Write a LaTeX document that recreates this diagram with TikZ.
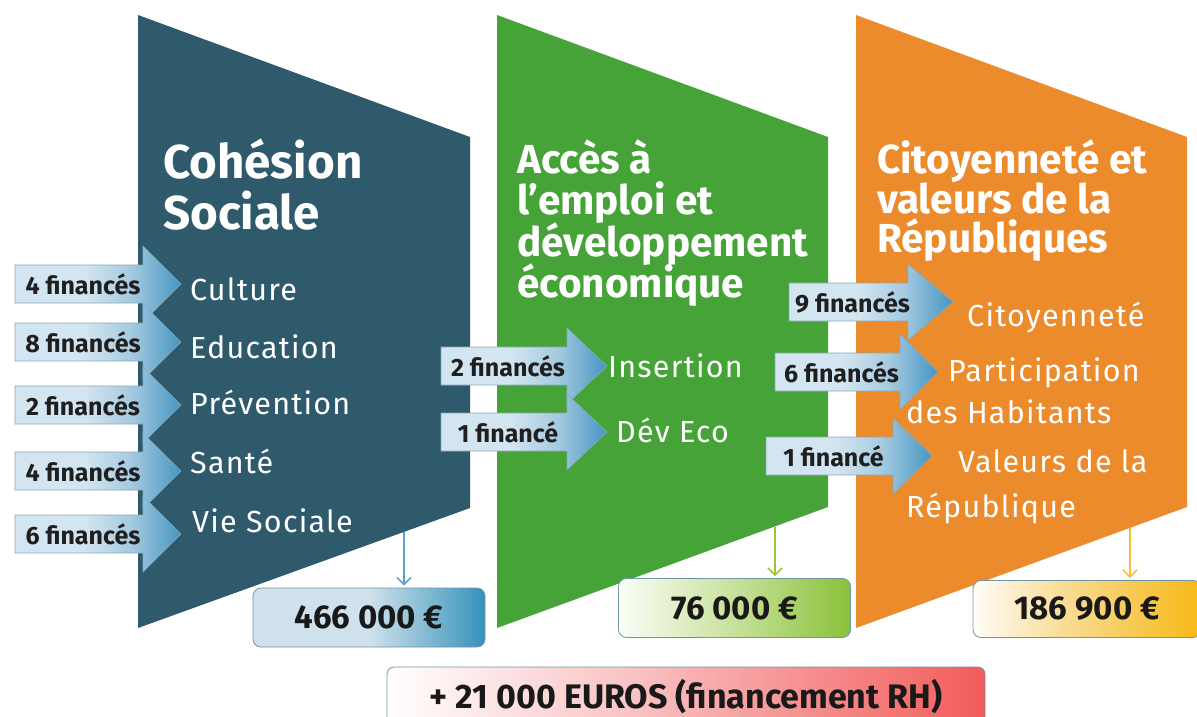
\documentclass[tikz,border=0pt]{standalone}
\usepackage{fontspec}
\setmainfont{Fira Sans}
\newfontfamily\itemfont[LetterSpace=4]{Fira Sans}
\usetikzlibrary{arrows.meta}

% panel colours
\definecolor{cTeal}{HTML}{2E5A6C}
\definecolor{cGreen}{HTML}{45A337}
\definecolor{cOrange}{HTML}{EC8B2C}
% funding arrows
\definecolor{arL}{HTML}{D3E5F0}
\definecolor{arM}{HTML}{A5CAE0}
\definecolor{arR}{HTML}{4596C2}
\definecolor{arEdge}{HTML}{8AA9B8}
% amount boxes
\definecolor{boxEdge}{HTML}{6F95A6}
\definecolor{bBlueL}{HTML}{CFE1EC}
\definecolor{bBlueR}{HTML}{3592BB}
\definecolor{bGreenL}{HTML}{FBFDF6}
\definecolor{bGreenM}{HTML}{D2E7AE}
\definecolor{bGreenR}{HTML}{8BC23A}
\definecolor{bYelL}{HTML}{FFFDF8}
\definecolor{bYelM}{HTML}{F9DC94}
\definecolor{bYelR}{HTML}{F7B916}
\definecolor{bRedL}{HTML}{FFFFFF}
\definecolor{bRedM}{HTML}{F9C4C4}
\definecolor{bRedR}{HTML}{F25B5B}
% down connectors
\definecolor{dnBlue}{HTML}{5BA3C8}
\definecolor{dnGreen}{HTML}{9BC53D}
\definecolor{dnYel}{HTML}{F5C040}

% the bounding box of a path spans 25bp..75bp of a shading
\pgfdeclarehorizontalshading{finshade}{100bp}{color(0bp)=(arL); color(25bp)=(arL); color(46bp)=(arL); color(60bp)=(arM); color(75bp)=(arR); color(100bp)=(arR)}
\pgfdeclarehorizontalshading{blueshade}{100bp}{color(0bp)=(bBlueL); color(25bp)=(bBlueL); color(50bp)=(bBlueL); color(75bp)=(bBlueR); color(100bp)=(bBlueR)}
\pgfdeclarehorizontalshading{greenshade}{100bp}{color(0bp)=(bGreenL); color(25bp)=(bGreenL); color(45bp)=(bGreenM); color(75bp)=(bGreenR); color(100bp)=(bGreenR)}
\pgfdeclarehorizontalshading{yelshade}{100bp}{color(0bp)=(bYelL); color(25bp)=(bYelL); color(45bp)=(bYelM); color(75bp)=(bYelR); color(100bp)=(bYelR)}
\pgfdeclarehorizontalshading{redshade}{100bp}{color(0bp)=(bRedL); color(25bp)=(bRedL); color(45bp)=(bRedM); color(75bp)=(bRedR); color(100bp)=(bRedR)}

% funding arrow: name, body left x, head base x, tip x, centre y, label
\newcommand\finarrow[6]{%
  \shadedraw[shading=finshade, draw=arEdge, line width=0.6pt]
    (#2,#5-19) -- (#3,#5-19) -- (#3,#5-38) -- (#4,#5) -- (#3,#5+38)
    -- (#3,#5+19) -- (#2,#5+19) -- cycle;
  \node[lbl] (#1) at ({(#2+#3)/2+4},#5) {#6};
}

\begin{document}
\begin{tikzpicture}[x=1pt,y=-1pt,
  title/.style={text=white, font=\bfseries\fontsize{47.5}{50}\selectfont, anchor=base west, inner sep=0pt},
  stitle/.style={title, font=\bfseries\fontsize{40.5}{42}\selectfont},
  item/.style={text=white, font=\itemfont\fontsize{30.5}{34}\selectfont, anchor=base west, inner sep=0pt},
  lbl/.style={text=black!88, font=\bfseries\fontsize{25}{28}\selectfont, inner sep=0pt},
  valbox/.style={shade, rounded corners=8pt, draw=boxEdge, line width=0.8pt,
    minimum width=232pt, minimum height=59pt, inner sep=0pt,
    text=black!90, font=\bfseries\fontsize{33}{36}\selectfont},
  dn/.style={line width=1.6pt, -{Straight Barb[length=7pt,width=14pt]}, shorten >=2pt}
]
\useasboundingbox (0,0) rectangle (1197,716);
\fill[white] (0,0) rectangle (1197,716);

% three theme panels
\fill[cTeal]   (138,15) -- (470,137) -- (470,508) -- (138,628) -- cycle;
\fill[cGreen]  (497,15) -- (828,137) -- (828,507) -- (497,628) -- cycle;
\fill[cOrange] (856,15) -- (1187,137) -- (1187,507) -- (856,628) -- cycle;

% panel headings
\node[title] (tA1) at (163,178) {Cohésion};
\node[title] (tA2) at (163,229) {Sociale};
\node[stitle] (tB1) at (517,173) {Accès à};
\node[stitle] (tB2) at (517,214) {l’emploi et};
\node[stitle] (tB3) at (517,256) {développement};
\node[stitle] (tB4) at (517,297) {économique};
\node[stitle] (tC1) at (877,173) {Citoyenneté et};
\node[stitle] (tC2) at (877,213) {valeurs de la};
\node[stitle] (tC3) at (877,252) {Républiques};

% funding arrows
\finarrow{fA1}{15}{143}{181}{284}{4 financés}
\finarrow{fA2}{15}{143}{181}{342}{8 financés}
\finarrow{fA3}{15}{143}{181}{405}{2 financés}
\finarrow{fA4}{15}{143}{181}{471}{4 financés}
\finarrow{fA5}{15}{143}{181}{534}{6 financés}
\finarrow{fB1}{441}{567}{607}{366}{2 financés}
\finarrow{fB2}{441}{567}{607}{432}{1 financé}
\finarrow{fC1}{789}{908}{953}{302}{9 financés}
\finarrow{fC2}{775}{900}{938}{372}{6 financés}
\finarrow{fC3}{766}{893}{932}{456}{1 financé}

% action areas
\node[item] (iA1) at (190,300) {Culture};
\node[item] (iA2) at (190,358) {Education};
\node[item] (iA3) at (190,414) {Prévention};
\node[item] (iA4) at (190,473) {Santé};
\node[item] (iA5) at (192,532) {Vie Sociale};
\node[item] (iB1) at (608,377) {Insertion};
\node[item] (iB2) at (616,442) {Dév Eco};
\node[item] (iC1) at (967,326) {Citoyenneté};
\node[item] (iC2) at (948,381) {Participation};
\node[item] (iC3) at (906,423) {des Habitants};
\node[item] (iC4) at (958,472) {Valeurs de la};
\node[item] (iC5) at (906,517) {République};

% amounts
\node[valbox, shading=blueshade] (vA) at (369,617.5) {466 000 €};
\node[valbox, shading=greenshade] (vB) at (734.5,608) {76 000 €};
\node[valbox, shading=yelshade, minimum width=228pt, minimum height=57pt] (vC) at (1087,609) {186 900 €};
\node[valbox, shading=redshade, minimum width=598pt, minimum height=60pt,
      font=\bfseries\fontsize{34}{38}\selectfont, rounded corners=7pt] (vR) at (686,697) {+ 21 000 EUROS (financement RH)};

% connectors from panels to amounts
\coordinate (oA) at (404,532);
\coordinate (oB) at (775,527);
\coordinate (oC) at (1130,528);
\draw[dn, dnBlue] (oA) -- (oA |- vA.north);
\draw[dn, dnGreen] (oB) -- (oB |- vB.north);
\draw[dn, dnYel] (oC) -- (oC |- vC.north);
\end{tikzpicture}
\end{document}
